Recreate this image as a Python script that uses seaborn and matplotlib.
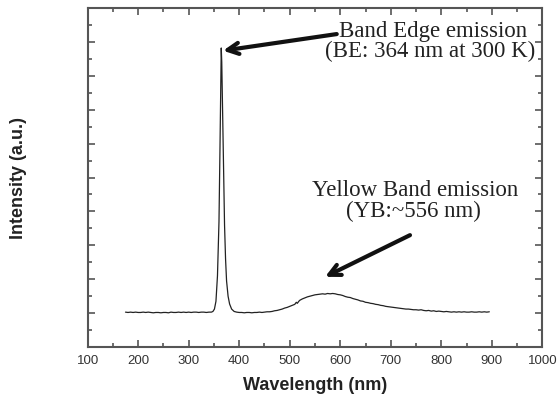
import numpy as np
import pandas as pd
import matplotlib
matplotlib.use("Agg")
import matplotlib.pyplot as plt
from matplotlib.ticker import MultipleLocator, NullFormatter
import seaborn as sns

# PL spectrum (wavelength in nm, intensity in arbitrary units)
wavelength = [
    175, 180, 185, 190, 195, 200, 205, 210, 215, 220, 225, 230, 235, 240, 245,
    250, 255, 260, 265, 270, 275, 280, 285, 290, 295, 300, 305, 310, 315, 320,
    325, 330, 335, 340, 345, 348, 351, 354, 357, 360, 362, 363.5, 364.5, 365.5,
    367, 369, 371, 373, 375, 378, 381, 385, 390, 395, 400, 405, 410, 415, 420,
    425, 430, 435, 440, 445, 450, 455, 460, 465, 470, 475, 480, 485, 490, 495,
    500, 505, 510, 513, 515, 518, 520, 525, 530, 535, 540, 545, 550, 555, 560,
    565, 570, 575, 580, 585, 590, 595, 600, 605, 610, 615, 620, 625, 630, 635,
    640, 645, 650, 655, 660, 665, 670, 675, 680, 685, 690, 695, 700, 705, 710,
    715, 720, 725, 730, 735, 740, 745, 750, 755, 760, 765, 770, 775, 780, 785,
    790, 795, 800, 805, 810, 815, 820, 825, 830, 835, 840, 845, 850, 855, 860,
    865, 870, 875, 880, 885, 890, 895,
]
intensity = [
    1.03, 1.02, 1.03, 1.02, 1.03, 1.02, 1.02, 1.03, 1.02, 1.03, 1.02, 1.01, 1.02, 1.02, 1.01,
    1.02, 1.02, 1.01, 1.03, 1.02, 1.02, 1.03, 1.02, 1.03, 1.02, 1.03, 1.02, 1.03, 1.03, 1.02,
    1.03, 1.03, 1.02, 1.03, 1.03, 1.05, 1.12, 1.35, 2.10, 3.70, 5.90, 7.80, 8.82, 8.40,
    7.10, 5.20, 3.60, 2.60, 1.95, 1.50, 1.27, 1.12, 1.05, 1.03, 1.02, 1.02, 1.01, 1.02, 1.02,
    1.01, 1.02, 1.02, 1.03, 1.02, 1.03, 1.04, 1.04, 1.05, 1.07, 1.08, 1.10, 1.12, 1.15, 1.17,
    1.20, 1.23, 1.26, 1.32, 1.29, 1.35, 1.38, 1.42, 1.45, 1.48, 1.50, 1.52, 1.54, 1.55, 1.56,
    1.57, 1.56, 1.58, 1.57, 1.58, 1.57, 1.55, 1.54, 1.52, 1.49, 1.47, 1.46, 1.43, 1.41, 1.39,
    1.36, 1.35, 1.32, 1.31, 1.29, 1.28, 1.26, 1.25, 1.23, 1.22, 1.20, 1.19, 1.18, 1.17, 1.16,
    1.15, 1.14, 1.13, 1.12, 1.12, 1.11, 1.10, 1.10, 1.09, 1.10, 1.08, 1.07, 1.08, 1.06, 1.07,
    1.05, 1.06, 1.05, 1.04, 1.05, 1.04, 1.03, 1.04, 1.03, 1.04, 1.03, 1.04, 1.03, 1.03, 1.04,
    1.03, 1.03, 1.04, 1.03, 1.04, 1.03, 1.04,
]

df = pd.DataFrame({"wavelength": wavelength, "intensity": intensity})

sns.set_style("ticks")
plt.rcParams["font.family"] = ["Liberation Sans", "DejaVu Sans"]

fig = plt.figure(figsize=(5.58, 3.98), dpi=100)
ax = fig.add_axes([0.157, 0.128, 0.815, 0.852])

sns.lineplot(data=df, x="wavelength", y="intensity", color="#222222",
             linewidth=0.9, ax=ax)

ax.set_xlim(100, 1000)
ax.set_ylim(0, 10)
ax.xaxis.set_major_locator(MultipleLocator(100))
ax.xaxis.set_minor_locator(MultipleLocator(50))
ax.yaxis.set_major_locator(MultipleLocator(1))
ax.yaxis.set_minor_locator(MultipleLocator(0.5))
ax.yaxis.set_major_formatter(NullFormatter())

spine_col = "#555555"
for s in ax.spines.values():
    s.set_color(spine_col)
    s.set_linewidth(1.5)
ax.tick_params(which="both", direction="in", top=True, right=True,
               color=spine_col, width=1.2, labelsize=9.5, labelcolor="#333333")
ax.tick_params(which="major", length=5)
ax.tick_params(which="minor", length=3)
ax.tick_params(axis="x", pad=6)

ax.set_xlabel("Wavelength (nm)", fontsize=13, fontweight="bold", color="#222222", labelpad=7)
ax.set_ylabel("Intensity (a.u.)", fontsize=13, fontweight="bold", color="#222222", labelpad=40)

serif = ["Liberation Serif", "DejaVu Serif"]
txt_kw = dict(ha="center", va="center", fontsize=16.5, family=serif, color="#222222")
ax.text(784, 9.30, "Band Edge emission", **txt_kw)
ax.text(778, 8.71, "(BE: 364 nm at 300 K)", **txt_kw)
ax.text(748, 4.63, "Yellow Band emission", **txt_kw)
ax.text(745, 3.99, "(YB:~556 nm)", **txt_kw)

arrow_kw = dict(arrowstyle="->", lw=3, color="#111111", mutation_scale=20,
                shrinkA=0, shrinkB=0)
ax.annotate("", xy=(368, 8.74), xytext=(593, 9.23), arrowprops=arrow_kw)
ax.annotate("", xy=(570, 2.07), xytext=(738, 3.30), arrowprops=arrow_kw)

fig.savefig("out.png", dpi=100)
